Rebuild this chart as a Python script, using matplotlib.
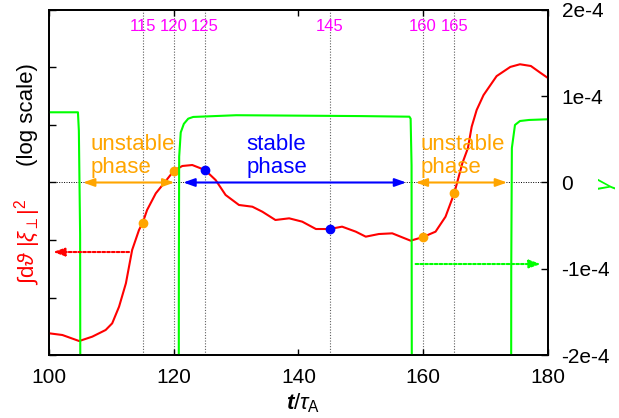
import numpy as np
import matplotlib
matplotlib.use("Agg")
import matplotlib.pyplot as plt

plt.rcParams['font.family'] = ['Liberation Sans', 'DejaVu Sans']
plt.rcParams['mathtext.fontset'] = 'custom'
plt.rcParams['mathtext.rm'] = 'Liberation Sans'
plt.rcParams['mathtext.it'] = 'Liberation Sans:italic'
plt.rcParams['mathtext.bf'] = 'Liberation Sans:bold:italic'

# ---- data ----
# red curve: integral of |xi_perp|^2 (log scale; stored as log10 of arbitrary units)
red_t = [100.0, 102.1, 104.8, 106.9, 109.05, 110.1, 111.2, 112.3, 113.3, 114.4, 115.0,
         115.7, 117.1, 118.4, 120.0, 121.35, 122.95, 125.0, 126.7, 128.3, 130.45, 132.6,
         134.2, 136.3, 138.5, 140.6, 142.8, 145.0, 147.0, 149.2, 150.8, 152.9, 155.05,
         158.0, 160.0, 162.0, 163.6, 165.0, 166.3, 167.2, 167.8, 168.6, 169.7, 171.8,
         174.0, 175.55, 177.3, 178.8, 180.0]
red_log = [0.377, 0.348, 0.243, 0.319, 0.435, 0.551, 0.840, 1.247, 1.826, 2.174, 2.301,
           2.522, 2.812, 2.986, 3.205, 3.287, 3.304, 3.217, 3.043, 2.783, 2.609, 2.579,
           2.492, 2.348, 2.377, 2.319, 2.191, 2.191, 2.232, 2.145, 2.058, 2.104, 2.116,
           1.988, 2.052, 2.145, 2.405, 2.812, 3.334, 3.60, 3.97, 4.261, 4.52, 4.85,
           5.01, 5.056, 5.026, 4.91, 4.82]

# green curve: growth rate gamma (units of 1e-4)
gam_t = [100, 104.6, 104.75, 104.95, 105.05, 120.75, 120.8, 120.85, 121.1, 121.6, 122.3,
         123.1, 130, 140, 150, 157.8, 158.0, 158.15, 158.25, 174.1, 174.15, 174.25,
         174.75, 175.55, 177, 180]
gam = [0.814, 0.814, 0.60, -0.60, -6, -6, -1.0, 0.30, 0.58, 0.68, 0.74, 0.76, 0.78,
       0.775, 0.77, 0.763, 0.74, 0.2, -6, -6, -1.0, 0.40, 0.667, 0.713, 0.725, 0.733]

vlines = [115, 120, 125, 145, 160, 165]
mark_t = [115, 120, 125, 145, 160, 165]
mark_c = ['#ffa500', '#ffa500', '#0000ff', '#0000ff', '#ffa500', '#ffa500']

xticks = [100, 120, 140, 160, 180]
rticks = [2e-4, 1e-4, 0, -1e-4, -2e-4]
rtick_labels = ['2e-4', '1e-4', '0', '-1e-4', '-2e-4']

# ---- figure ----
fig = plt.figure(figsize=(6.19, 4.18), dpi=100)
ax = fig.add_axes([0.0796, 0.1507, 0.8052, 0.8254])
ax2 = ax.twinx()

red_vals = 10 ** np.array(red_log)
ax.plot(red_t, red_vals, color='#ff0000', lw=1.5, zorder=3, solid_joinstyle='round')
mvals = 10 ** np.interp(mark_t, red_t, red_log)
for t, v, c in zip(mark_t, mvals, mark_c):
    ax.plot([t], [v], 'o', color=c, ms=6, zorder=4)
ax.set_yscale('log')
ax.set_ylim(1, 1e6)
ax.set_xlim(100, 180)
ax.set_yticks([10 ** k for k in range(0, 7)])
ax.yaxis.set_minor_locator(matplotlib.ticker.NullLocator())
ax.set_yticklabels([])
ax.tick_params(axis='y', which='both', direction='in', length=5, width=1, left=True, right=False)
ax.set_xticks(xticks)
ax.tick_params(axis='x', direction='in', length=4, width=1, top=True, bottom=True,
               labelsize=15, pad=9)

for v in vlines:
    ax.axvline(v, color='#606060', lw=0.8, ls=(0, (1, 1.5)), zorder=1)
    ax.text(v, 0.951, str(v), transform=ax.get_xaxis_transform(), color='#ff00ff',
            fontsize=12, ha='center', va='center')

ax2.plot(gam_t, np.array(gam) * 1e-4, color='#00ff00', lw=1.5, zorder=2)
ax2.set_ylim(-2e-4, 2e-4)
ax2.set_yticks(rticks)
ax2.set_yticklabels(rtick_labels)
ax2.tick_params(axis='y', direction='in', length=5, width=1, labelsize=15, pad=10)
ax2.axhline(0, color='black', lw=0.7, ls=(0, (1, 1.5)), zorder=1)

for sp in list(ax.spines.values()) + list(ax2.spines.values()):
    sp.set_linewidth(1.3)

HEAD = ',head_length=0.45,head_width=0.16'

# phase arrows
def darrow(x0, x1, y, color):
    ax2.annotate('', xy=(x1, y), xytext=(x0, y),
                 arrowprops=dict(arrowstyle='<|-|>' + HEAD,
                                 color=color, lw=1.5, mutation_scale=15,
                                 shrinkA=0, shrinkB=0), zorder=5)

darrow(105.4, 120.1, 0, '#ffa500')
darrow(121.5, 157.3, 0, '#0000ff')
darrow(158.8, 173.5, 0, '#ffa500')

def dotarrow(x0, x1, y, color):
    ax2.annotate('', xy=(x1, y), xytext=(x0, y),
                 arrowprops=dict(arrowstyle='-|>' + HEAD,
                                 color=color, lw=1.5, ls=(0, (1.3, 1.0)), mutation_scale=15,
                                 shrinkA=0, shrinkB=0), zorder=5)

dotarrow(112.8, 100.6, -0.806e-4, '#ff0000')
dotarrow(158.8, 178.9, -0.945e-4, '#00ff00')

# phase labels
for x, c, w1 in [(106.64, '#ffa500', 'unstable'), (131.7, '#0000ff', 'stable'),
                 (159.6, '#ffa500', 'unstable')]:
    ax2.text(x, 0.377e-4, w1, color=c, fontsize=16, ha='left', va='baseline')
    ax2.text(x, 0.107e-4, 'phase', color=c, fontsize=16, ha='left', va='baseline')

# axis labels
fig.text(0.045, 0.727, '(log scale)', rotation=90, fontsize=16, ha='center', va='center')
fig.text(0.045, 0.421, r'$\int\mathrm{d}\vartheta\ |\xi_\perp|^2$', rotation=90,
         fontsize=16, color='#ff0000', ha='center', va='center')
fig.text(0.982, 0.56, r'$\gamma$', rotation=90, fontsize=16, color='#00ff00',
         ha='center', va='center')
fig.text(0.49, 0.02, r'$\mathbf{t}/\tau_\mathrm{A}$', fontsize=16, ha='center',
         va='baseline')

fig.savefig('out.png', dpi=100)
